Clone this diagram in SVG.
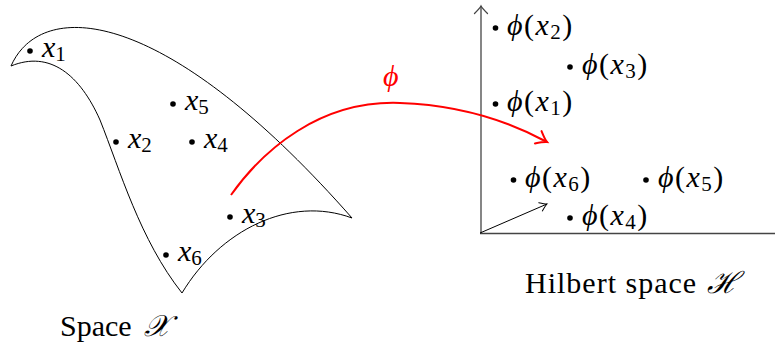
<svg xmlns="http://www.w3.org/2000/svg" width="775" height="349" viewBox="0 0 775 349">
<style>
  text { font-family: 'Liberation Serif', 'DejaVu Serif', serif; font-size: 30px; fill: #000; }
  .it { font-style: italic; }
  .sub { font-size: 21px; }
  .phi { letter-spacing: 1.5px; }
  .dot { fill: #000; }
  .edge { fill: none; stroke: #000; stroke-width: 1; }
  .axis { fill: none; stroke: #444; stroke-width: 1.3; }
</style>
<defs>
  <marker id="redhead" markerUnits="userSpaceOnUse" markerWidth="24" markerHeight="24" refX="0" refY="0" viewBox="-12 -12 24 24" orient="auto" overflow="visible">
    <path d="M-10,-7 Q-3,-1.2 0,0 Q-3,1.2 -10,7" fill="none" stroke="#f00" stroke-width="2" stroke-linecap="round"/>
  </marker>
  <marker id="blackhead" markerUnits="userSpaceOnUse" markerWidth="20" markerHeight="20" refX="0" refY="0" viewBox="-10 -10 20 20" orient="auto" overflow="visible">
    <path d="M-7,-4.5 Q-2,-0.8 0,0 Q-2,0.8 -7,4.5" fill="none" stroke="#000" stroke-width="1" stroke-linecap="round"/>
  </marker>
  <marker id="axishead" markerUnits="userSpaceOnUse" markerWidth="20" markerHeight="20" refX="0" refY="0" viewBox="-10 -10 20 20" orient="auto" overflow="visible">
    <path d="M-7.5,-6.5 Q-2,-1 0,0 Q-2,1 -7.5,6.5" fill="none" stroke="#444" stroke-width="1.3" stroke-linecap="round"/>
  </marker>
</defs>

<g id="surface">
  <path class="edge" d="M11,66 C40,0 160,0 352,218 C290,195 220,230 182,293 C140,240 120,170 100,120 C80,75 50,50 11,66 Z"/>
</g>

<g id="x1"><circle class="dot" cx="30" cy="51" r="2.8"/><text y="57"><tspan class="it" x="42">x</tspan><tspan class="sub" dy="4">1</tspan></text></g>
<g id="x5"><circle class="dot" cx="173" cy="104" r="2.8"/><text y="110"><tspan class="it" x="185">x</tspan><tspan class="sub" dy="4">5</tspan></text></g>
<g id="x2"><circle class="dot" cx="116" cy="142" r="2.8"/><text y="148"><tspan class="it" x="128">x</tspan><tspan class="sub" dy="4">2</tspan></text></g>
<g id="x4"><circle class="dot" cx="192" cy="142" r="2.8"/><text y="148"><tspan class="it" x="204">x</tspan><tspan class="sub" dy="4">4</tspan></text></g>
<g id="x3"><circle class="dot" cx="230" cy="217" r="2.8"/><text y="223"><tspan class="it" x="242">x</tspan><tspan class="sub" dy="4">3</tspan></text></g>
<g id="x6"><circle class="dot" cx="166" cy="255" r="2.8"/><text y="261"><tspan class="it" x="178">x</tspan><tspan class="sub" dy="4">6</tspan></text></g>

<g id="label-space-x">
  <text y="336"><tspan x="60">Space</tspan><tspan class="it" x="144">𝒳</tspan></text>
</g>

<g id="axes">
  <line class="axis" x1="481" y1="233.5" x2="481" y2="6" marker-end="url(#axishead)"/>
  <line class="axis" x1="480" y1="233.5" x2="775" y2="233.5"/>
</g>

<g id="phi-x2"><circle class="dot" cx="495.5" cy="28" r="2.8"/><text class="phi" y="35"><tspan class="it" x="507">ϕ</tspan><tspan>(</tspan><tspan class="it">x</tspan><tspan class="sub" dy="4">2</tspan><tspan dy="-4">)</tspan></text></g>
<g id="phi-x3"><circle class="dot" cx="570" cy="67" r="2.8"/><text class="phi" y="74"><tspan class="it" x="582">ϕ</tspan><tspan>(</tspan><tspan class="it">x</tspan><tspan class="sub" dy="4">3</tspan><tspan dy="-4">)</tspan></text></g>
<g id="phi-x1"><circle class="dot" cx="495.5" cy="104" r="2.8"/><text class="phi" y="111"><tspan class="it" x="507">ϕ</tspan><tspan>(</tspan><tspan class="it">x</tspan><tspan class="sub" dy="4">1</tspan><tspan dy="-4">)</tspan></text></g>
<g id="phi-x6"><circle class="dot" cx="513.5" cy="180" r="2.8"/><text class="phi" y="187"><tspan class="it" x="525">ϕ</tspan><tspan>(</tspan><tspan class="it">x</tspan><tspan class="sub" dy="4">6</tspan><tspan dy="-4">)</tspan></text></g>
<g id="phi-x5"><circle class="dot" cx="646" cy="180" r="2.8"/><text class="phi" y="187"><tspan class="it" x="658">ϕ</tspan><tspan>(</tspan><tspan class="it">x</tspan><tspan class="sub" dy="4">5</tspan><tspan dy="-4">)</tspan></text></g>
<g id="phi-x4"><circle class="dot" cx="570" cy="218" r="2.8"/><text class="phi" y="225"><tspan class="it" x="582">ϕ</tspan><tspan>(</tspan><tspan class="it">x</tspan><tspan class="sub" dy="4">4</tspan><tspan dy="-4">)</tspan></text></g>

<g id="label-hilbert">
  <text y="293"><tspan x="525" letter-spacing="1">Hilbert space</tspan><tspan class="it" x="707">ℋ</tspan></text>
</g>

<g id="connectors">
  <path d="M231,195 C263,150 320,100 400,103 C460,105 510,122 547,142" fill="none" stroke="#f00" stroke-width="2" marker-end="url(#redhead)"/>
  <text class="it" x="383" y="86" style="fill:#f00">ϕ</text>
  <line x1="480" y1="233" x2="547" y2="204" stroke="#000" stroke-width="1" marker-end="url(#blackhead)"/>
</g>
</svg>
